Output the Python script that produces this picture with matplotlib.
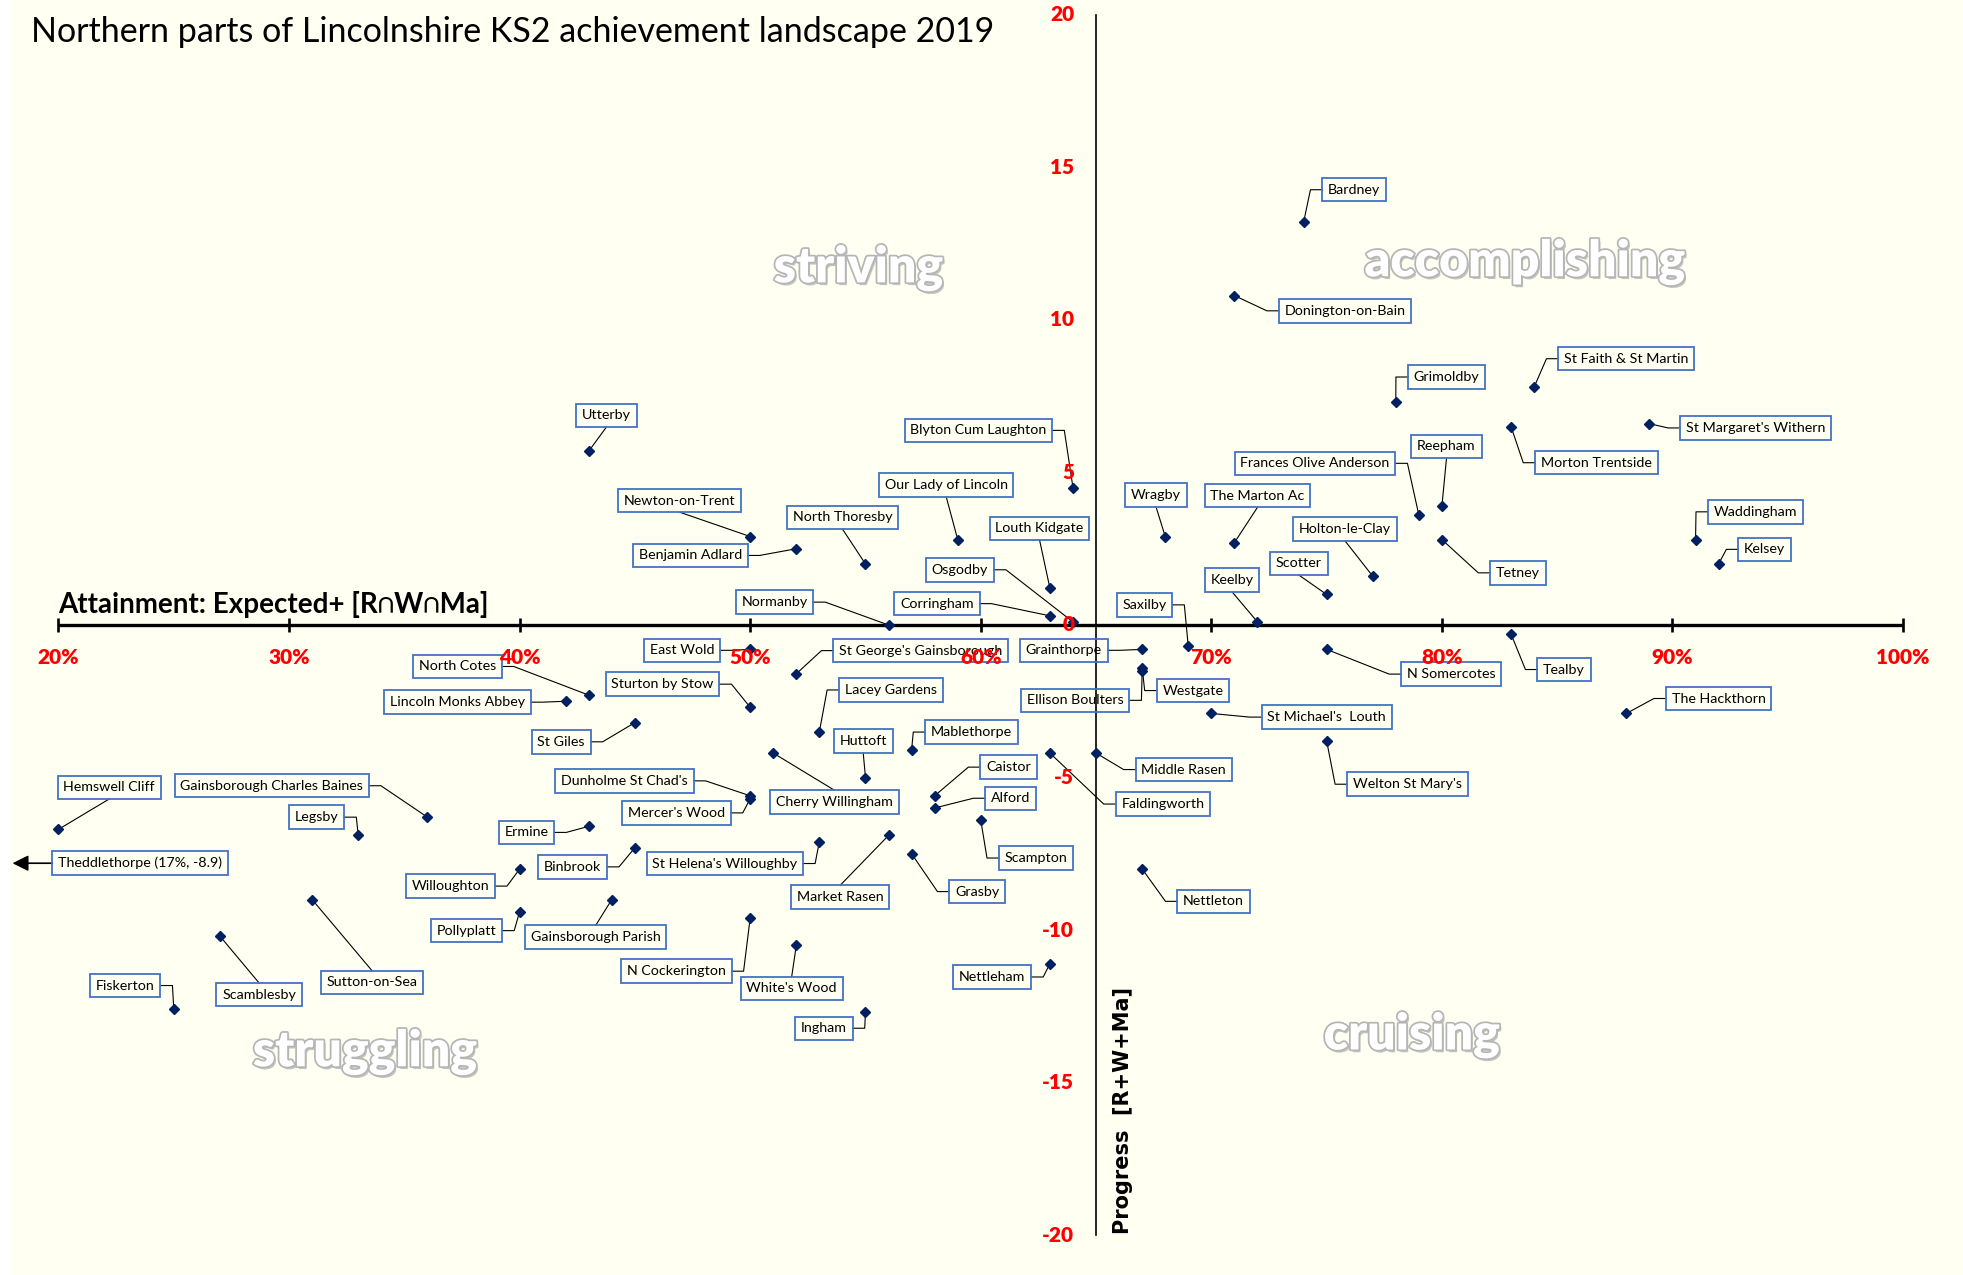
import numpy as np
import matplotlib.pyplot as plt
from matplotlib import patheffects as pe
from matplotlib.patches import Rectangle

# school, attainment (% expected+ in R, W and Ma), progress (R+W+Ma)
schools = ['Bardney', 'Donington-on-Bain', 'Grimoldby', 'St Faith & St Martin',
           "St Margaret's Withern", 'Morton Trentside', 'Reepham', 'Frances Olive Anderson',
           'Wragby', 'The Marton Ac', 'Holton-le-Clay', 'Tetney', 'Scotter', 'Keelby',
           'Saxilby', 'Waddingham', 'Kelsey', 'Tealby', 'N Somercotes', 'The Hackthorn',
           "St Michael's  Louth", "Welton St Mary's", 'Nettleton', 'Middle Rasen',
           'Faldingworth', 'Grainthorpe', 'Westgate', 'Ellison Boulters', 'Osgodby',
           'Corringham', 'Louth Kidgate', 'Blyton Cum Laughton', 'Our Lady of Lincoln',
           'North Thoresby', 'Benjamin Adlard', 'Newton-on-Trent', 'Utterby', 'Normanby',
           'East Wold', "St George's Gainsborough", 'Sturton by Stow', 'North Cotes',
           'Lincoln Monks Abbey', 'St Giles', 'Lacey Gardens', 'Mablethorpe', 'Huttoft',
           'Cherry Willingham', "Dunholme St Chad's", "Mercer's Wood", 'Caistor', 'Alford',
           'Scampton', 'Ermine', 'Market Rasen', "St Helena's Willoughby", 'Binbrook',
           'Grasby', 'Gainsborough Parish', 'N Cockerington', "White's Wood", 'Nettleham',
           'Ingham', 'Willoughton', 'Pollyplatt', 'Sutton-on-Sea', 'Scamblesby',
           'Fiskerton', 'Hemswell Cliff', 'Gainsborough Charles Baines', 'Legsby']
attainment = [74, 71, 78, 84, 89, 83, 80, 79, 68, 71, 77, 80, 75, 72, 69, 91, 92, 83, 75, 88,
              70, 75, 67, 65, 63, 67, 67, 67, 64, 63, 63, 64, 59, 55, 52, 50, 43, 56, 50, 52,
              50, 43, 42, 45, 53, 57, 55, 51, 50, 50, 58, 58, 60, 43, 56, 53, 45, 57, 44, 50,
              52, 63, 55, 40, 40, 31, 27, 25, 20, 36, 33]
progress = [13.2, 10.8, 7.3, 7.8, 6.6, 6.5, 3.9, 3.6, 2.9, 2.7, 1.6, 2.8, 1.0, 0.1, -0.7,
            2.8, 2.0, -0.3, -0.8, -2.9, -2.9, -3.8, -8.0, -4.2, -4.2, -0.8, -1.4, -1.5, 0.1,
            0.3, 1.2, 4.5, 2.8, 2.0, 2.5, 2.9, 5.7, 0.0, -0.8, -1.6, -2.7, -2.3, -2.5, -3.2,
            -3.5, -4.1, -5.0, -4.2, -5.6, -5.7, -5.6, -6.0, -6.4, -6.6, -6.9, -7.1, -7.3,
            -7.5, -9.0, -9.6, -10.5, -11.1, -12.7, -8.0, -9.4, -9.0, -10.2, -12.6, -6.7,
            -6.3, -6.9]

# where each data label box sits
label_x = [76.2, 75.8, 80.2, 88.0, 93.6, 86.7, 80.2, 74.5, 67.6, 72.0, 75.8, 83.3, 73.8, 70.9,
           67.1, 93.6, 94.0, 85.3, 80.4, 92.0, 75.0, 78.5, 70.1, 68.8, 67.9, 63.6, 69.2, 64.1,
           59.1, 58.1, 62.55, 59.9, 58.5, 54.0, 47.4, 46.95, 43.76, 51.05, 47.05, 57.4, 46.2,
           37.3, 37.3, 41.8, 56.1, 59.6, 54.9, 53.65, 44.55, 46.8, 61.2, 61.3, 62.4, 40.3,
           53.9, 48.9, 42.3, 59.85, 43.3, 46.8, 51.8, 60.5, 53.2, 37.0, 37.7, 33.6, 28.7,
           22.9, 22.2, 29.25, 31.2]
label_y = [14.27, 10.30, 8.13, 8.73, 6.46, 5.32, 5.86, 5.30, 4.26, 4.24, 3.14, 1.71, 2.02, 1.47,
           0.66, 3.71, 2.48, -1.46, -1.61, -2.41, -3.02, -5.22, -9.06, -4.74, -5.87, -0.83,
           -2.15, -2.47, 1.81, 0.70, 3.17, 6.38, 4.59, 3.53, 2.28, 4.08, 6.87, 0.75, -0.83,
           -0.84, -1.94, -1.36, -2.53, -3.83, -2.13, -3.51, -3.80, -5.80, -5.11, -6.16, -4.66,
           -5.68, -7.64, -6.80, -8.92, -7.82, -7.93, -8.74, -10.23, -11.35, -11.91, -11.54,
           -13.22, -8.56, -10.02, -11.72, -12.12, -11.82, -5.32, -5.27, -6.30]

# one school is off the left of the scale
off_name = 'Theddlethorpe'
off_att = 17
off_prog = -8.9
off_label_x = 23.54
off_label_y = -7.81

x_ticks = [20, 30, 40, 50, 60, 70, 80, 90, 100]
y_ticks = [20, 15, 10, 5, 0, -5, -10, -15, -20]

quadrants = ['striving', 'accomplishing', 'struggling', 'cruising']
quad_x = [54.7, 83.6, 33.3, 78.7]
quad_y = [11.7, 11.9, -14.0, -13.45]

cream = '#FFFFF2'
W, H = 1963, 1275
fig = plt.figure(figsize=(W / 100, H / 100), dpi=100, facecolor='white')
fig.add_artist(Rectangle((11 / W, 0), 1, 1, transform=fig.transFigure, color=cream, zorder=-10))
ax = fig.add_axes([0, 0, 1, 1])
ax.set_xlim(17.463, 102.60)
ax.set_ylim(-21.31, 20.49)
ax.axis('off')

font = ['Lato', 'DejaVu Sans']

# axes drawn through the middle
ax.plot([x_ticks[0], x_ticks[-1]], [0, 0], color='black', lw=2.4, solid_capstyle='butt', zorder=1)
ax.vlines(x_ticks, -0.24, 0.24, color='black', lw=1.9, zorder=1)
ax.plot([65, 65], [y_ticks[-1], y_ticks[0]], color='black', lw=1.2, zorder=1)

for t in x_ticks:
    ax.text(t, -1.05, f'{t}%', color='red', fontweight='heavy', fontsize=15,
            ha='center', va='center', family=font, zorder=6)
for t in y_ticks:
    ax.text(64.05, t, str(t), color='red', fontweight='heavy', fontsize=15,
            ha='right', va='center', family=font, zorder=6)

ax.text(20, 0.4, 'Attainment: Expected+ [R\u2229W\u2229Ma]', fontweight='bold', fontsize=20,
        ha='left', va='baseline', family=font)
ax.text(66.16, -19.95, 'Progress  [R+W+Ma]', rotation=90, fontweight='bold', fontsize=15,
        ha='center', va='bottom', family='DejaVu Sans')

fig.text(31 / W, 1 - 42 / H, 'Northern parts of Lincolnshire KS2 achievement landscape 2019',
         fontsize=24.5, family=font, va='baseline', ha='left')

# quadrant names, white with a grey glow
for q, qx, qy in zip(quadrants, quad_x, quad_y):
    ax.text(qx, qy, q, fontsize=36, fontweight='heavy', color='white', ha='center', va='center',
            family=font, zorder=1,
            path_effects=[pe.SimplePatchShadow(offset=(1.5, -2), shadow_rgbFace='#808080', alpha=0.45),
                          pe.withStroke(linewidth=2.5, foreground='#b5b5b5')])

ax.plot(attainment, progress, 'D', color='#002060', ms=5, ls='none', zorder=3)

box = dict(boxstyle='square,pad=0.4', fc='none', ec='#4472C4', lw=1.3)
texts = []
for name, lx, ly in zip(schools, label_x, label_y):
    texts.append(ax.text(lx, ly, name, fontsize=10.3, family=font, ha='center', va='center',
                         bbox=box, zorder=4))
off_text = ax.text(off_label_x, off_label_y, f'{off_name} ({off_att}%, {off_prog})', fontsize=10.3,
                   family=font, ha='center', va='center', bbox=box, zorder=4)

# leader lines, excel style: short stub out of the box side, or straight from top/bottom
fig.canvas.draw()
r = fig.canvas.get_renderer()
inv = ax.transData.inverted()
thr, stub = 11, 12
for t, a, p in zip(texts, attainment, progress):
    bb = t.get_bbox_patch().get_window_extent(r)
    px, py = ax.transData.transform((a, p))
    cx, cy = (bb.x0 + bb.x1) / 2, (bb.y0 + bb.y1) / 2
    if px < bb.x0 - thr:
        pts = [(bb.x0, cy), (bb.x0 - stub, cy), (px, py)]
    elif px > bb.x1 + thr:
        pts = [(bb.x1, cy), (bb.x1 + stub, cy), (px, py)]
    elif py < bb.y0:
        pts = [(cx, bb.y0), (px, py)]
    else:
        pts = [(cx, bb.y1), (px, py)]
    d = inv.transform(pts)
    ax.plot(d[:, 0], d[:, 1], color='black', lw=0.8, zorder=2)

bb = off_text.get_bbox_patch().get_window_extent(r)
cy = (bb.y0 + bb.y1) / 2
start = inv.transform((bb.x0, cy))
tip = inv.transform((12.5, cy))
ax.annotate('', xy=tip, xytext=start,
            arrowprops=dict(arrowstyle='-|>,head_length=0.6,head_width=0.3', mutation_scale=16,
                            color='black', lw=1.2, shrinkA=0, shrinkB=0))

fig.savefig('out.png', dpi=100, facecolor=fig.get_facecolor())
